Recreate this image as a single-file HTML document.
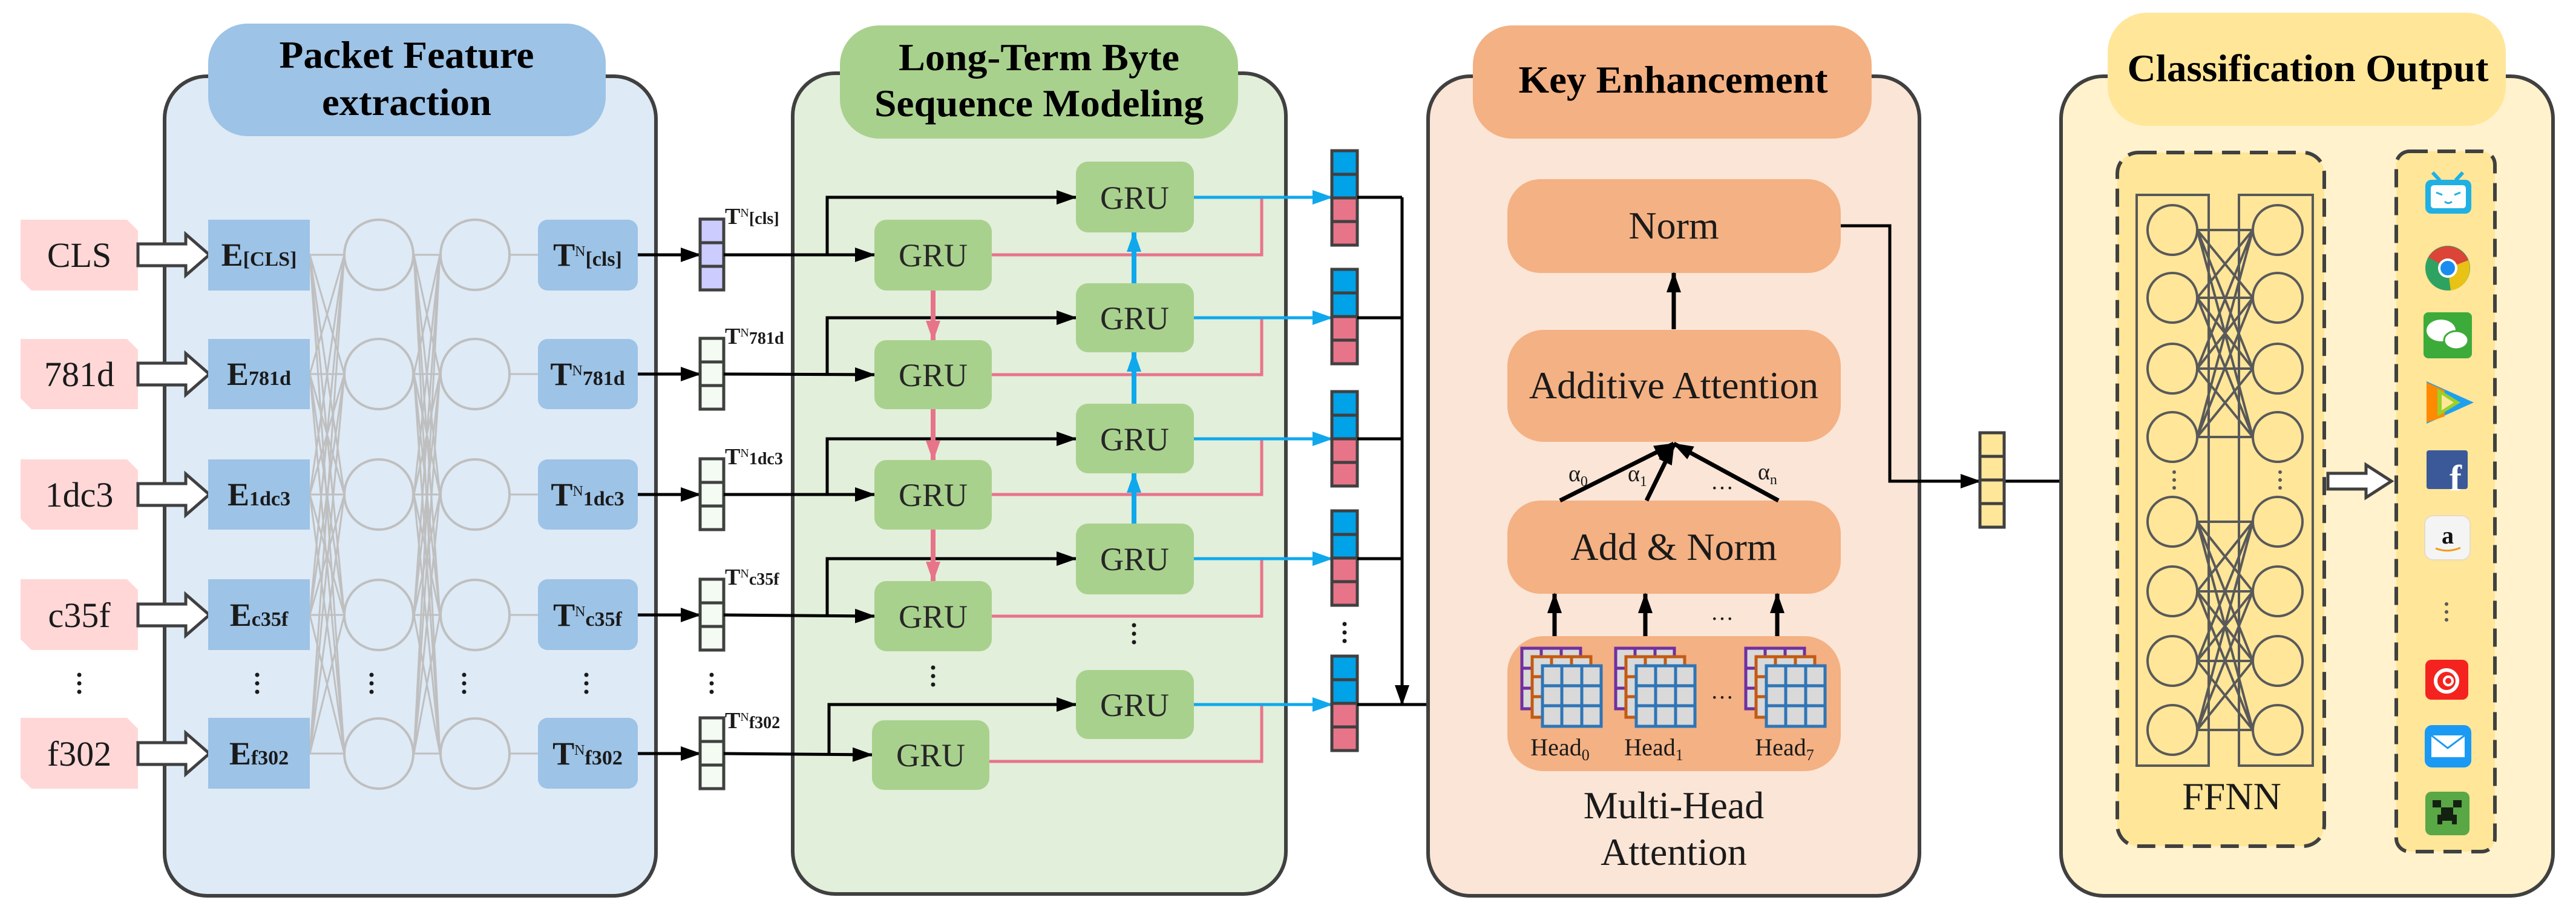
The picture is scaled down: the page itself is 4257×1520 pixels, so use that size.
<!DOCTYPE html>
<html><head><meta charset="utf-8"><style>
html,body{margin:0;padding:0;background:#fff;}
svg{display:block;font-family:"Liberation Serif","DejaVu Serif",serif;}
svg text{font-family:"Liberation Serif","DejaVu Serif",serif;}
</style></head><body>
<svg width="4257" height="1520" viewBox="0 0 4257 1520" xmlns="http://www.w3.org/2000/svg" font-family="'Liberation Serif','DejaVu Serif',serif">
<defs>
<marker id="ak" markerUnits="userSpaceOnUse" markerWidth="34" markerHeight="24" refX="32" refY="12" orient="auto"><path d="M0,0 L34,12 L0,24 z" fill="#000"/></marker>
<marker id="ap" markerUnits="userSpaceOnUse" markerWidth="34" markerHeight="24" refX="32" refY="12" orient="auto"><path d="M0,0 L34,12 L0,24 z" fill="#e8748a"/></marker>
<marker id="ab" markerUnits="userSpaceOnUse" markerWidth="34" markerHeight="24" refX="32" refY="12" orient="auto"><path d="M0,0 L34,12 L0,24 z" fill="#0fa8ec"/></marker>
</defs>

<!-- ============ PANEL 1 ============ -->
<rect x="272" y="126" width="812" height="1354" rx="70" fill="#deeaf6" stroke="#404040" stroke-width="6"/>
<rect x="344" y="39" width="657" height="186" rx="65" fill="#9dc3e6"/>
<text x="672" y="112" font-size="64" font-weight="bold" text-anchor="middle" textLength="421" lengthAdjust="spacingAndGlyphs">Packet Feature</text>
<text x="672" y="190" font-size="64" font-weight="bold" text-anchor="middle" textLength="280" lengthAdjust="spacingAndGlyphs">extraction</text>

<g fill="#ffd7d7">
<polygon points="34,363 210,363 228,381 228,480 52,480 34,462"/>
<polygon points="34,560 210,560 228,578 228,676 52,676 34,658"/>
<polygon points="34,759 210,759 228,777 228,875 52,875 34,857"/>
<polygon points="34,957 210,957 228,975 228,1074 52,1074 34,1056"/>
<polygon points="34,1186 210,1186 228,1204 228,1303 52,1303 34,1285"/>
</g>
<g font-size="58" text-anchor="middle" fill="#1a1a1a">
<text x="131" y="441">CLS</text>
<text x="131" y="638">781d</text>
<text x="131" y="837">1dc3</text>
<text x="131" y="1036">c35f</text>
<text x="131" y="1265">f302</text>
</g>
<g fill="#fff" stroke="#404040" stroke-width="5">
<polygon points="228,403 307,403 307,387 346,421 307,455 307,439 228,439"/>
<polygon points="228,600 307,600 307,584 346,618 307,652 307,636 228,636"/>
<polygon points="228,799 307,799 307,783 346,817 307,851 307,835 228,835"/>
<polygon points="228,998 307,998 307,982 346,1016 307,1050 307,1034 228,1034"/>
<polygon points="228,1227 307,1227 307,1211 346,1245 307,1279 307,1263 228,1263"/>
</g>
<g stroke="#bfbfbf" stroke-width="3" fill="none">
<path d="M512 421L569 421M512 421L569 618M512 421L569 817M512 421L569 1016M512 421L569 1245M512 618L569 421M512 618L569 618M512 618L569 817M512 618L569 1016M512 618L569 1245M512 817L569 421M512 817L569 618M512 817L569 817M512 817L569 1016M512 817L569 1245M512 1016L569 421M512 1016L569 618M512 1016L569 817M512 1016L569 1016M512 1016L569 1245M512 1245L569 421M512 1245L569 618M512 1245L569 817M512 1245L569 1016M512 1245L569 1245"/>
<path d="M684 421L727 421M684 421L727 618M684 421L727 817M684 421L727 1016M684 421L727 1245M684 618L727 421M684 618L727 618M684 618L727 817M684 618L727 1016M684 618L727 1245M684 817L727 421M684 817L727 618M684 817L727 817M684 817L727 1016M684 817L727 1245M684 1016L727 421M684 1016L727 618M684 1016L727 817M684 1016L727 1016M684 1016L727 1245M684 1245L727 421M684 1245L727 618M684 1245L727 817M684 1245L727 1016M684 1245L727 1245"/>
<path d="M842 421L889 421M842 618L889 618M842 817L889 817M842 1016L889 1016M842 1245L889 1245"/>
<g stroke-width="4">
<ellipse cx="626" cy="421" rx="57" ry="58"/><ellipse cx="626" cy="618" rx="57" ry="58"/><ellipse cx="626" cy="817" rx="57" ry="58"/><ellipse cx="626" cy="1016" rx="57" ry="58"/><ellipse cx="626" cy="1245" rx="57" ry="58"/>
<ellipse cx="785" cy="421" rx="57" ry="58"/><ellipse cx="785" cy="618" rx="57" ry="58"/><ellipse cx="785" cy="817" rx="57" ry="58"/><ellipse cx="785" cy="1016" rx="57" ry="58"/><ellipse cx="785" cy="1245" rx="57" ry="58"/>
</g>
</g>
<g fill="#9dc3e6">
<rect x="344" y="363" width="168" height="117"/>
<rect x="344" y="560" width="168" height="116"/>
<rect x="344" y="759" width="168" height="116"/>
<rect x="344" y="957" width="168" height="117"/>
<rect x="344" y="1186" width="168" height="117"/>
</g>
<g font-weight="bold" text-anchor="middle" fill="#1a1a1a">
<text x="428" y="439" font-size="54">E<tspan font-size="34">[CLS]</tspan></text>
<text x="428" y="636" font-size="54">E<tspan font-size="34">781d</tspan></text>
<text x="428" y="835" font-size="54">E<tspan font-size="34">1dc3</tspan></text>
<text x="428" y="1034" font-size="54">E<tspan font-size="34">c35f</tspan></text>
<text x="428" y="1263" font-size="54">E<tspan font-size="34">f302</tspan></text>
</g>
<g fill="#9dc3e6">
<rect x="889" y="363" width="165" height="117" rx="16"/>
<rect x="889" y="560" width="165" height="116" rx="16"/>
<rect x="889" y="759" width="165" height="116" rx="16"/>
<rect x="889" y="957" width="165" height="117" rx="16"/>
<rect x="889" y="1186" width="165" height="117" rx="16"/>
</g>
<g font-weight="bold" text-anchor="middle" fill="#1a1a1a">
<text x="971" y="439" font-size="54">T<tspan font-size="24" font-weight="normal" dy="-16">N</tspan><tspan font-size="34" dy="16">[cls]</tspan></text>
<text x="971" y="636" font-size="54">T<tspan font-size="24" font-weight="normal" dy="-16">N</tspan><tspan font-size="34" dy="16">781d</tspan></text>
<text x="971" y="835" font-size="54">T<tspan font-size="24" font-weight="normal" dy="-16">N</tspan><tspan font-size="34" dy="16">1dc3</tspan></text>
<text x="971" y="1034" font-size="54">T<tspan font-size="24" font-weight="normal" dy="-16">N</tspan><tspan font-size="34" dy="16">c35f</tspan></text>
<text x="971" y="1263" font-size="54">T<tspan font-size="24" font-weight="normal" dy="-16">N</tspan><tspan font-size="34" dy="16">f302</tspan></text>
</g>
<g fill="#1a1a1a">
<circle cx="131" cy="1115" r="3.5"/><circle cx="131" cy="1129" r="3.5"/><circle cx="131" cy="1143" r="3.5"/>
<circle cx="425" cy="1115" r="3.5"/><circle cx="425" cy="1129" r="3.5"/><circle cx="425" cy="1143" r="3.5"/>
<circle cx="614" cy="1115" r="3.5"/><circle cx="614" cy="1129" r="3.5"/><circle cx="614" cy="1143" r="3.5"/>
<circle cx="767" cy="1115" r="3.5"/><circle cx="767" cy="1129" r="3.5"/><circle cx="767" cy="1143" r="3.5"/>
<circle cx="969" cy="1115" r="3.5"/><circle cx="969" cy="1129" r="3.5"/><circle cx="969" cy="1143" r="3.5"/>
<circle cx="1176" cy="1115" r="3.5"/><circle cx="1176" cy="1129" r="3.5"/><circle cx="1176" cy="1143" r="3.5"/>
</g>
<g stroke="#000" stroke-width="5" fill="none" marker-end="url(#ak)">
<path d="M1054 421L1157 421"/><path d="M1054 618L1157 618"/><path d="M1054 817L1157 817"/><path d="M1054 1016L1157 1016"/><path d="M1054 1245L1157 1245"/>
</g>
<g stroke="#404040" stroke-width="5">
<rect x="1157" y="362" width="39" height="39" fill="#ccccff"/><rect x="1157" y="401" width="39" height="39" fill="#ccccff"/><rect x="1157" y="440" width="39" height="39" fill="#ccccff"/>
<g fill="#f3fbf3">
<rect x="1157" y="559" width="39" height="39"/><rect x="1157" y="598" width="39" height="39"/><rect x="1157" y="637" width="39" height="39"/>
<rect x="1157" y="758" width="39" height="39"/><rect x="1157" y="797" width="39" height="39"/><rect x="1157" y="836" width="39" height="39"/>
<rect x="1157" y="957" width="39" height="39"/><rect x="1157" y="996" width="39" height="39"/><rect x="1157" y="1035" width="39" height="39"/>
<rect x="1157" y="1186" width="39" height="39"/><rect x="1157" y="1225" width="39" height="39"/><rect x="1157" y="1264" width="39" height="39"/>
</g></g>
<g font-weight="bold" fill="#1a1a1a" font-size="38">
<text x="1198" y="370">T<tspan font-size="20" font-weight="normal" dy="-12">N</tspan><tspan font-size="28" dy="12">[cls]</tspan></text>
<text x="1198" y="568">T<tspan font-size="20" font-weight="normal" dy="-12">N</tspan><tspan font-size="28" dy="12">781d</tspan></text>
<text x="1198" y="767">T<tspan font-size="20" font-weight="normal" dy="-12">N</tspan><tspan font-size="28" dy="12">1dc3</tspan></text>
<text x="1198" y="966">T<tspan font-size="20" font-weight="normal" dy="-12">N</tspan><tspan font-size="28" dy="12">c35f</tspan></text>
<text x="1198" y="1203">T<tspan font-size="20" font-weight="normal" dy="-12">N</tspan><tspan font-size="28" dy="12">f302</tspan></text>
</g>

<!-- ============ PANEL 2 ============ -->
<rect x="1310" y="121" width="815" height="1356" rx="70" fill="#e2efda" stroke="#404040" stroke-width="6"/>
<rect x="1388" y="42" width="658" height="187" rx="65" fill="#a9d18e"/>
<text x="1717" y="116" font-size="64" font-weight="bold" text-anchor="middle" textLength="464" lengthAdjust="spacingAndGlyphs">Long-Term Byte</text>
<text x="1717" y="192" font-size="64" font-weight="bold" text-anchor="middle" textLength="544" lengthAdjust="spacingAndGlyphs">Sequence Modeling</text>

<g stroke="#000" stroke-width="5" fill="none">
<path d="M1196 421L1445 421" marker-end="url(#ak)"/>
<path d="M1367 421L1367 326L1778 326" marker-end="url(#ak)"/>
<path d="M1196 618L1445 619" marker-end="url(#ak)"/>
<path d="M1367 619L1367 525L1778 525" marker-end="url(#ak)"/>
<path d="M1196 817L1445 817" marker-end="url(#ak)"/>
<path d="M1367 817L1367 725L1778 725" marker-end="url(#ak)"/>
<path d="M1196 1016L1445 1018" marker-end="url(#ak)"/>
<path d="M1367 1018L1367 923L1778 923" marker-end="url(#ak)"/>
<path d="M1196 1245L1441 1247" marker-end="url(#ak)"/>
<path d="M1370 1247L1370 1164L1778 1164" marker-end="url(#ak)"/>
</g>
<g stroke="#e8748a" stroke-width="5" fill="none">
<path d="M1639 421L2085 421L2085 326"/>
<path d="M1639 619L2085 619L2085 525"/>
<path d="M1639 817L2085 817L2085 725"/>
<path d="M1639 1018L2085 1018L2085 923"/>
<path d="M1635 1258L2085 1258L2085 1164"/>
<g stroke-width="8">
<path d="M1542 480L1542 562" marker-end="url(#ap)"/>
<path d="M1542 676L1542 760" marker-end="url(#ap)"/>
<path d="M1542 875L1542 960" marker-end="url(#ap)"/>
</g>
</g>
<g stroke="#0fa8ec" stroke-width="5" fill="none">
<path d="M1973 326L2201 326" marker-end="url(#ab)"/>
<path d="M1973 525L2201 525" marker-end="url(#ab)"/>
<path d="M1973 725L2201 725" marker-end="url(#ab)"/>
<path d="M1973 923L2201 923" marker-end="url(#ab)"/>
<path d="M1973 1164L2201 1164" marker-end="url(#ab)"/>
<g stroke-width="8">
<path d="M1874 468L1874 384" marker-end="url(#ab)"/>
<path d="M1874 667L1874 582" marker-end="url(#ab)"/>
<path d="M1874 865L1874 782" marker-end="url(#ab)"/>
</g>
</g>
<g fill="#a9d18e">
<rect x="1445" y="363" width="194" height="117" rx="20"/>
<rect x="1445" y="562" width="194" height="114" rx="20"/>
<rect x="1445" y="760" width="194" height="115" rx="20"/>
<rect x="1445" y="960" width="194" height="116" rx="20"/>
<rect x="1441" y="1190" width="194" height="115" rx="20"/>
<rect x="1778" y="267" width="195" height="117" rx="20"/>
<rect x="1778" y="468" width="195" height="114" rx="20"/>
<rect x="1778" y="667" width="195" height="115" rx="20"/>
<rect x="1778" y="865" width="195" height="117" rx="20"/>
<rect x="1778" y="1107" width="195" height="114" rx="20"/>
</g>
<g font-size="54" text-anchor="middle" fill="#262626">
<text x="1542" y="440">GRU</text><text x="1542" y="638">GRU</text><text x="1542" y="836">GRU</text><text x="1542" y="1037">GRU</text><text x="1538" y="1266">GRU</text>
<text x="1875" y="345">GRU</text><text x="1875" y="544">GRU</text><text x="1875" y="744">GRU</text><text x="1875" y="942">GRU</text><text x="1875" y="1183">GRU</text>
</g>
<g fill="#1a1a1a">
<circle cx="1874" cy="1033" r="3.5"/><circle cx="1874" cy="1047" r="3.5"/><circle cx="1874" cy="1061" r="3.5"/>
<circle cx="1542" cy="1103" r="3.5"/><circle cx="1542" cy="1117" r="3.5"/><circle cx="1542" cy="1131" r="3.5"/>
<circle cx="2222" cy="1031" r="3.5"/><circle cx="2222" cy="1045" r="3.5"/><circle cx="2222" cy="1059" r="3.5"/>
</g>
<g stroke="#404040" stroke-width="5">
<rect x="2201" y="249" width="42" height="39" fill="#00a2e8"/><rect x="2201" y="288" width="42" height="39" fill="#00a2e8"/><rect x="2201" y="327" width="42" height="39" fill="#e8748a"/><rect x="2201" y="366" width="42" height="39" fill="#e8748a"/>
<rect x="2201" y="445" width="42" height="39" fill="#00a2e8"/><rect x="2201" y="484" width="42" height="39" fill="#00a2e8"/><rect x="2201" y="523" width="42" height="39" fill="#e8748a"/><rect x="2201" y="562" width="42" height="39" fill="#e8748a"/>
<rect x="2201" y="647" width="42" height="39" fill="#00a2e8"/><rect x="2201" y="686" width="42" height="39" fill="#00a2e8"/><rect x="2201" y="725" width="42" height="39" fill="#e8748a"/><rect x="2201" y="764" width="42" height="39" fill="#e8748a"/>
<rect x="2201" y="844" width="42" height="39" fill="#00a2e8"/><rect x="2201" y="883" width="42" height="39" fill="#00a2e8"/><rect x="2201" y="922" width="42" height="39" fill="#e8748a"/><rect x="2201" y="961" width="42" height="39" fill="#e8748a"/>
<rect x="2201" y="1084" width="42" height="39" fill="#00a2e8"/><rect x="2201" y="1123" width="42" height="39" fill="#00a2e8"/><rect x="2201" y="1162" width="42" height="39" fill="#e8748a"/><rect x="2201" y="1201" width="42" height="39" fill="#e8748a"/>
</g>
<g stroke="#000" stroke-width="5" fill="none">
<path d="M2243 326L2317 326M2243 525L2317 525M2243 725L2317 725M2243 923L2317 923"/>
<path d="M2317 326L2317 1164" marker-end="url(#ak)"/>
<path d="M2243 1164L2420 1164"/>
<path d="M2391 1164L2391 904L2491 904" marker-end="url(#ak)"/>
<path d="M2420 1161L2491 1161" marker-end="url(#ak)"/>
<path d="M2420 1161L2420 1119L2491 1119" marker-end="url(#ak)"/>
<path d="M2420 1161L2420 1199L2491 1199" marker-end="url(#ak)"/>
</g>

<!-- ============ PANEL 3 ============ -->
<rect x="2360" y="126" width="812" height="1354" rx="70" fill="#fbe5d6" stroke="#404040" stroke-width="6"/>
<rect x="2434" y="42" width="659" height="187" rx="65" fill="#f4b183"/>
<text x="2765" y="153" font-size="64" font-weight="bold" text-anchor="middle" textLength="511" lengthAdjust="spacingAndGlyphs">Key Enhancement</text>
<rect x="2491" y="296" width="551" height="155" rx="55" fill="#f4b183"/>
<text x="2766" y="394" font-size="64" text-anchor="middle" fill="#1a1a1a">Norm</text>
<rect x="2491" y="545" width="551" height="185" rx="60" fill="#f4b183"/>
<text x="2766" y="658" font-size="64" text-anchor="middle" fill="#1a1a1a">Additive Attention</text>
<rect x="2491" y="827" width="551" height="154" rx="55" fill="#f4b183"/>
<text x="2766" y="925" font-size="64" text-anchor="middle" fill="#1a1a1a">Add &amp; Norm</text>
<rect x="2491" y="1051" width="551" height="223" rx="60" fill="#f4b183"/>
<g stroke="#000" stroke-width="7" fill="none">
<path d="M2766 544L2766 451" marker-end="url(#ak)"/>
<path d="M2569 1051L2569 981" marker-end="url(#ak)"/>
<path d="M2719 1051L2719 981" marker-end="url(#ak)"/>
<path d="M2937 1051L2937 981" marker-end="url(#ak)"/>
<path d="M2578 827L2766 733" marker-end="url(#ak)"/>
<path d="M2721 827L2766 735" marker-end="url(#ak)"/>
<path d="M2939 827L2766 733" marker-end="url(#ak)"/>
</g>
<g font-size="38" fill="#1a1a1a">
<text x="2592" y="795">α<tspan font-size="24" dy="8">0</tspan></text>
<text x="2690" y="795">α<tspan font-size="24" dy="8">1</tspan></text>
<text x="2905" y="792">α<tspan font-size="24" dy="8">n</tspan></text>
<text x="2846" y="808" text-anchor="middle">…</text>
<text x="2846" y="1024" text-anchor="middle">…</text>
<text x="2846" y="1154" text-anchor="middle">…</text>
</g>
<g stroke-width="5">
<g transform="translate(2515,1071)">
<rect x="0" y="0" width="97" height="100" fill="#d9d9d9" stroke="#7030a0"/><path d="M32 0V100M65 0V100M0 33H97M0 66H97" stroke="#7030a0"/>
<rect x="17" y="14" width="97" height="100" fill="#d9d9d9" stroke="#c55a11"/><path d="M49 14V114M82 14V114M17 47H114M17 80H114" stroke="#c55a11"/>
<rect x="34" y="29" width="97" height="100" fill="#d9d9d9" stroke="#2e75b6"/><path d="M66 29V129M99 29V129M34 62H131M34 95H131" stroke="#2e75b6"/>
</g>
<g transform="translate(2670,1071)">
<rect x="0" y="0" width="97" height="100" fill="#d9d9d9" stroke="#7030a0"/><path d="M32 0V100M65 0V100M0 33H97M0 66H97" stroke="#7030a0"/>
<rect x="17" y="14" width="97" height="100" fill="#d9d9d9" stroke="#c55a11"/><path d="M49 14V114M82 14V114M17 47H114M17 80H114" stroke="#c55a11"/>
<rect x="34" y="29" width="97" height="100" fill="#d9d9d9" stroke="#2e75b6"/><path d="M66 29V129M99 29V129M34 62H131M34 95H131" stroke="#2e75b6"/>
</g>
<g transform="translate(2885,1071)">
<rect x="0" y="0" width="97" height="100" fill="#d9d9d9" stroke="#7030a0"/><path d="M32 0V100M65 0V100M0 33H97M0 66H97" stroke="#7030a0"/>
<rect x="17" y="14" width="97" height="100" fill="#d9d9d9" stroke="#c55a11"/><path d="M49 14V114M82 14V114M17 47H114M17 80H114" stroke="#c55a11"/>
<rect x="34" y="29" width="97" height="100" fill="#d9d9d9" stroke="#2e75b6"/><path d="M66 29V129M99 29V129M34 62H131M34 95H131" stroke="#2e75b6"/>
</g>
</g>
<g font-size="40" fill="#1a1a1a" text-anchor="middle">
<text x="2578" y="1248">Head<tspan font-size="26" dy="8">0</tspan></text>
<text x="2733" y="1248">Head<tspan font-size="26" dy="8">1</tspan></text>
<text x="2949" y="1248">Head<tspan font-size="26" dy="8">7</tspan></text>
</g>
<text x="2766" y="1352" font-size="64" text-anchor="middle" fill="#1a1a1a">Multi-Head</text>
<text x="2766" y="1429" font-size="64" text-anchor="middle" fill="#1a1a1a">Attention</text>

<g stroke="#000" stroke-width="5" fill="none">
<path d="M3042 373L3123 373L3123 795L3272 795" marker-end="url(#ak)"/>
<path d="M3312 795L3499 795" marker-end="url(#ak)"/>
</g>
<g stroke="#404040" stroke-width="5" fill="#ffe699">
<rect x="3272" y="715" width="40" height="39"/><rect x="3272" y="754" width="40" height="39"/><rect x="3272" y="793" width="40" height="39"/><rect x="3272" y="832" width="40" height="39"/>
</g>

<!-- ============ PANEL 4 ============ -->
<rect x="3406" y="126" width="813" height="1354" rx="70" fill="#fff2cc" stroke="#404040" stroke-width="6"/>
<rect x="3483" y="21" width="658" height="187" rx="65" fill="#ffe699"/>
<text x="3814" y="134" font-size="64" font-weight="bold" text-anchor="middle" textLength="597" lengthAdjust="spacingAndGlyphs">Classification Output</text>
<rect x="3499" y="252" width="342" height="1146" rx="35" fill="#ffe699" stroke="#404040" stroke-width="6" stroke-dasharray="30 16"/>
<rect x="3960" y="250" width="163" height="1157" rx="22" fill="#ffe699" stroke="#404040" stroke-width="6" stroke-dasharray="30 16"/>
<g stroke="#595959" stroke-width="4" fill="none">
<rect x="3531" y="322" width="119" height="943"/>
<rect x="3700" y="322" width="122" height="943"/>
<path d="M3631 380L3723 380M3631 380L3723 492M3631 380L3723 609M3631 380L3723 722M3631 492L3723 380M3631 492L3723 492M3631 492L3723 609M3631 492L3723 722M3631 609L3723 380M3631 609L3723 492M3631 609L3723 609M3631 609L3723 722M3631 722L3723 380M3631 722L3723 492M3631 722L3723 609M3631 722L3723 722"/>
<path d="M3631 862L3723 862M3631 862L3723 977M3631 862L3723 1092M3631 862L3723 1206M3631 977L3723 862M3631 977L3723 977M3631 977L3723 1092M3631 977L3723 1206M3631 1092L3723 862M3631 1092L3723 977M3631 1092L3723 1092M3631 1092L3723 1206M3631 1206L3723 862M3631 1206L3723 977M3631 1206L3723 1092M3631 1206L3723 1206"/>
<g fill="#ffe699">
<circle cx="3590" cy="380" r="41"/><circle cx="3590" cy="492" r="41"/><circle cx="3590" cy="609" r="41"/><circle cx="3590" cy="722" r="41"/>
<circle cx="3590" cy="862" r="41"/><circle cx="3590" cy="977" r="41"/><circle cx="3590" cy="1092" r="41"/><circle cx="3590" cy="1206" r="41"/>
<circle cx="3764" cy="380" r="41"/><circle cx="3764" cy="492" r="41"/><circle cx="3764" cy="609" r="41"/><circle cx="3764" cy="722" r="41"/>
<circle cx="3764" cy="862" r="41"/><circle cx="3764" cy="977" r="41"/><circle cx="3764" cy="1092" r="41"/><circle cx="3764" cy="1206" r="41"/>
</g>
</g>
<g fill="#595959">
<circle cx="3593" cy="780" r="3"/><circle cx="3593" cy="793" r="3"/><circle cx="3593" cy="806" r="3"/>
<circle cx="3768" cy="780" r="3"/><circle cx="3768" cy="793" r="3"/><circle cx="3768" cy="806" r="3"/>
<circle cx="4043" cy="998" r="3"/><circle cx="4043" cy="1011" r="3"/><circle cx="4043" cy="1024" r="3"/>
</g>
<text x="3688" y="1337" font-size="64" text-anchor="middle" fill="#1a1a1a">FFNN</text>
<polygon points="3847,782 3910,782 3910,768 3952,795 3910,822 3910,808 3847,808" fill="#fff" stroke="#404040" stroke-width="5"/>

<g>
<path d="M4020 285L4032 298M4070 285L4058 298" stroke="#20b0e3" stroke-width="6"/>
<rect x="4008" y="297" width="76" height="56" rx="10" fill="#20b0e3"/>
<rect x="4017" y="306" width="58" height="38" rx="5" fill="#fff"/>
<path d="M4026 318L4036 322M4066 318L4056 322M4040 333Q4046 338 4052 333" stroke="#20b0e3" stroke-width="3" fill="none"/>
<circle cx="4045" cy="443" r="37" fill="#2ea261"/>
<path d="M4045 443L4013 425A37 37 0 0 1 4079 430Z" fill="#db4437"/>
<path d="M4045 443L4079 430A37 37 0 0 1 4050 480Z" fill="#e8c214"/>
<circle cx="4045" cy="443" r="16" fill="#fff"/><circle cx="4045" cy="443" r="12" fill="#1a8cf0"/>
<rect x="4005" y="516" width="80" height="76" rx="8" fill="#3dab3a"/>
<ellipse cx="4034" cy="546" rx="24" ry="18" fill="#fff"/>
<ellipse cx="4059" cy="562" rx="20" ry="15" fill="#fff" stroke="#3dab3a" stroke-width="3"/>
<path d="M4010 630L4088 665L4010 700Z" fill="#1ea0f0"/>
<path d="M4010 632L4040 645L4040 688L4010 698Z" fill="#ff8a00"/>
<path d="M4028 642L4066 665L4028 688Z" fill="#9bd027"/>
<path d="M4035 652L4055 665L4035 678Z" fill="#ffe699"/>
<rect x="4010" y="744" width="68" height="64" rx="4" fill="#3b5998"/>
<text x="4058" y="810" font-family="'Liberation Sans',sans-serif" font-weight="bold" font-size="60" fill="#fff" text-anchor="middle">f</text>
<rect x="4007" y="852" width="75" height="73" rx="14" fill="#f4f4f4" stroke="#e6dcc4" stroke-width="2"/>
<text x="4045" y="898" font-family="'Liberation Sans',sans-serif" font-weight="bold" font-size="40" fill="#111" text-anchor="middle">a</text>
<path d="M4025 906Q4045 914 4066 905" stroke="#f29b1a" stroke-width="3" fill="none"/>
<rect x="4008" y="1090" width="71" height="66" rx="10" fill="#f5231f"/>
<circle cx="4043" cy="1125" r="18" stroke="#fff" stroke-width="6" fill="none"/>
<circle cx="4046" cy="1125" r="7" stroke="#fff" stroke-width="4" fill="none"/>
<rect x="4007" y="1198" width="77" height="70" rx="12" fill="#1a9af5"/>
<rect x="4018" y="1215" width="55" height="36" fill="#fff"/>
<path d="M4018 1215L4045 1236L4073 1215" stroke="#1a9af5" stroke-width="3" fill="none"/>
<rect x="4008" y="1308" width="73" height="72" rx="10" fill="#5aa745"/>
<path d="M4020 1322h14v12h-14zM4054 1322h14v12h-14zM4034 1334h20v12h-20zM4028 1346h32v16h-8v-6h-16v6h-8z" fill="#122110"/>
</g>
</svg>
</body></html>
